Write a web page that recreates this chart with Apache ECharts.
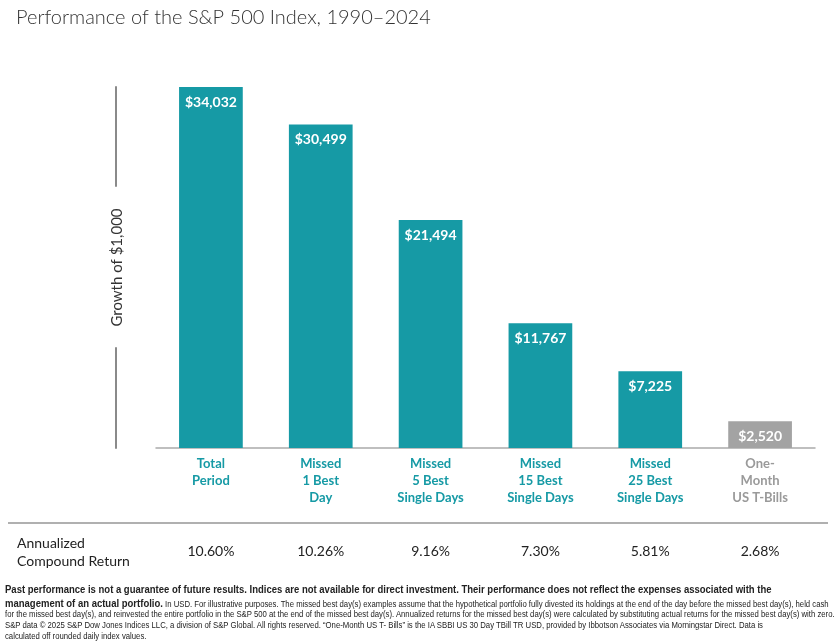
<!DOCTYPE html>
<html lang="en">
<head>
    <meta charset="UTF-8">
    <title>S&amp;P 500 missed best days</title>
    <script src="https://cdn.jsdelivr.net/npm/echarts@6/dist/echarts.min.js"></script>
    <style>
        body { margin: 0; background: #fff; }
        #wrap { position: relative; width: 836px; height: 643px; }
        #main_chart { position: absolute; left: 0; top: 0; width: 836px; height: 643px; }
        #note {
            position: absolute; left: 5px; top: 582px;
            font-family: 'Liberation Sans', Arial, sans-serif;
            font-size: 9.45px; line-height: 10.7px; color: #222;
            white-space: nowrap;
            transform: scaleX(0.82); transform-origin: left top;
        }
        #note b { font-size: 11.6px; line-height: 13px; }
    </style>
</head>
<body>
<div id="wrap">
    <div id="main_chart"></div>
    <div id="note"><b>Past performance is not a guarantee of future results. Indices are not available for direct investment. Their performance does not reflect the expenses associated with the<br>management of an actual portfolio.</b> In USD. For illustrative purposes. The missed best day(s) examples assume that the hypothetical portfolio fully divested its holdings at the end of the day before the missed best day(s), held cash<br>for the missed best day(s), and reinvested the entire portfolio in the S&amp;P 500 at the end of the missed best day(s). Annualized returns for the missed best day(s) were calculated by substituting actual returns for the missed best day(s) with zero.<br>S&amp;P data © 2025 S&amp;P Dow Jones Indices LLC, a division of S&amp;P Global. All rights reserved. “One-Month US T- Bills” is the IA SBBI US 30 Day TBill TR USD, provided by Ibbotson Associates via Morningstar Direct. Data is<br>calculated off rounded daily index values.</div>
</div>

<script>
    // chart data
    var categories = ['Total\nPeriod', 'Missed\n1 Best\nDay', 'Missed\n5 Best\nSingle Days',
                      'Missed\n15 Best\nSingle Days', 'Missed\n25 Best\nSingle Days', 'One-\nMonth\nUS T-Bills'];
    var growthValues = [34032, 30499, 21494, 11767, 7225, 2520];
    var annualReturns = ['10.60%', '10.26%', '9.16%', '7.30%', '5.81%', '2.68%'];

    var TEAL = '#169aa5';
    var GREY = '#a3a3a3';
    var lastIdx = categories.length - 1;

    var chart = echarts.init(document.getElementById('main_chart'));

    var option = {
        animation: false,
        title: {
            text: 'Performance of the S&P 500 Index, 1990\u20132024',
            left: 11, top: 3,
            textStyle: { fontFamily: 'Lato', fontWeight: 300, fontSize: 20, color: '#333' }
        },
        grid: { left: 156, right: 21, top: 87, bottom: 195 },
        xAxis: [
            {
                type: 'category',
                data: categories,
                axisLine: { lineStyle: { color: '#aaaaaa', width: 1.5 } },
                axisTick: { show: false },
                axisLabel: {
                    interval: 0,
                    margin: 7,
                    fontFamily: 'Lato',
                    fontWeight: 'bold',
                    fontSize: 13,
                    lineHeight: 17,
                    color: function (value, index) {
                        return index === lastIdx ? '#9a9a9a' : TEAL;
                    }
                }
            },
            {
                // annualized return row under the chart
                type: 'category',
                position: 'bottom',
                offset: 96,
                data: annualReturns,
                axisLine: { show: false },
                axisTick: { show: false },
                axisLabel: {
                    interval: 0, margin: 0,
                    fontFamily: 'Lato', fontSize: 14, color: '#222'
                }
            }
        ],
        yAxis: {
            type: 'value',
            min: 0,
            max: 'dataMax',
            offset: 40,
            // broken line around the axis name
            axisLine: { show: true, lineStyle: { color: '#8a8a8a', width: 2, type: [100, 162, 110] } },
            axisTick: { show: false },
            axisLabel: { show: false },
            splitLine: { show: false },
            name: 'Growth of $1,000',
            nameLocation: 'middle',
            nameRotate: 90,
            nameGap: -9,
            nameTextStyle: { fontFamily: 'Lato', fontSize: 15, color: '#333' }
        },
        graphic: [
            {
                type: 'line',
                shape: { x1: 8, y1: 523, x2: 828, y2: 523 },
                style: { stroke: '#b0b0b0', lineWidth: 2 }
            },
            {
                type: 'text',
                left: 17, top: 534,
                style: {
                    text: 'Annualized\nCompound Return',
                    font: '14px Lato',
                    lineHeight: 18,
                    fill: '#222'
                }
            }
        ],
        series: [
            {
                type: 'bar',
                xAxisIndex: 0,
                barWidth: '58%',
                data: growthValues,
                itemStyle: {
                    color: function (p) { return p.dataIndex === lastIdx ? GREY : TEAL; }
                },
                label: {
                    show: true,
                    position: 'insideTop',
                    distance: 8,
                    fontFamily: 'Lato',
                    fontWeight: 'bold',
                    fontSize: 14,
                    color: '#fff',
                    formatter: function (p) {
                        return '$' + p.value.toLocaleString('en-US');
                    }
                }
            }
        ]
    };

    chart.setOption(option);
</script>
</body>
</html>
